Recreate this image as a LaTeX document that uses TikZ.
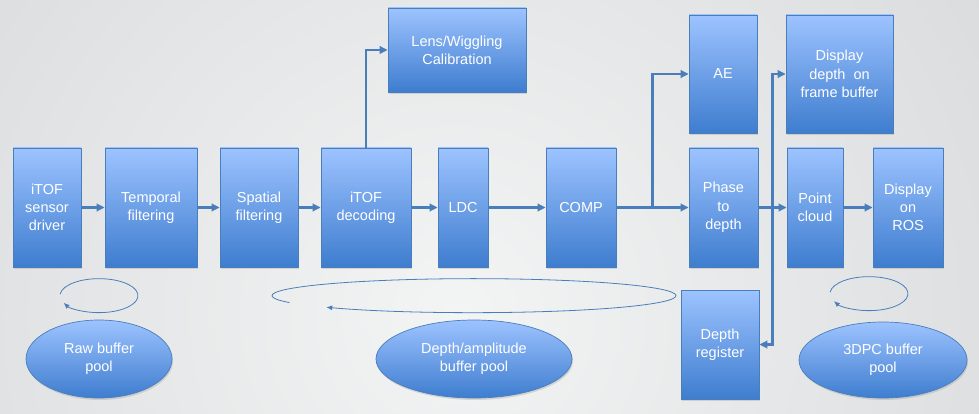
\documentclass[tikz,border=0pt]{standalone}
\usepackage{fontspec}
\setmainfont{Liberation Sans}
\usetikzlibrary{calc,arrows.meta,shadows,shapes.geometric}
\definecolor{arline}{HTML}{4A7EBB}
\definecolor{boxtop}{HTML}{9DC3FF}
\definecolor{boxbot}{HTML}{3E7DCF}
\definecolor{bgin}{HTML}{F3F4F4}
\definecolor{bgout}{HTML}{C2C4C7}
\pgfdeclareradialshading{bgshade}{\pgfpoint{0bp}{0bp}}{color(0bp)=(bgin); color(50bp)=(bgout)}
\tikzset{
  ar/.style={-{Triangle[length=8pt,width=7.5pt]},line width=2.6pt,arline},
  cyc/.style={-{Latex[length=6pt,width=5pt]},line width=0.8pt,arline},
  blk/.style={draw=arline,line width=0.7pt,top color=boxtop,bottom color=boxbot,text=white,align=center,inner sep=1pt,
    font=\fontsize{14.5}{18.3}\selectfont,drop shadow={shadow xshift=1pt,shadow yshift=-2pt,opacity=0.25}},
  pool/.style={blk,ellipse},
  sz/.style 2 args={minimum width=#1pt,minimum height=#2pt}
}
\begin{document}
\begin{tikzpicture}[x=1pt,y=-1pt]
\useasboundingbox (0,0) rectangle (979,414);
\begin{scope}
\clip (0,0) rectangle (979,414);
\shade[shading=bgshade] (455,315) circle (620);
\end{scope}
% processing blocks
\node[blk,sz={68}{119}] (drv) at (47,207.5) {iTOF\\sensor\\driver};
\node[blk,sz={92}{119}] (tmp) at (151,207.5) {Temporal\\filtering};
\node[blk,sz={78}{119}] (spa) at (259,207.5) {Spatial\\filtering};
\node[blk,sz={90}{119}] (dec) at (366,207.5) {iTOF\\decoding};
\node[blk,sz={50}{119}] (ldc) at (463,207.5) {LDC};
\node[blk,sz={70}{119}] (cmp) at (581,207.5) {COMP};
\node[blk,sz={138}{84}] (cal) at (457,50) {Lens/Wiggling\\Calibration};
\node[blk,sz={68}{118}] (ae) at (723,74) {AE};
\node[blk,sz={107}{118}] (dfb) at (839.5,74) {Display\\depth~ on\\frame buffer};
\node[blk,sz={69}{119}] (p2d) at (723.5,207.5) {Phase\\to\\depth};
\node[blk,sz={56}{119}] (pcl) at (815,207.5) {Point\\cloud};
\node[blk,sz={70}{119}] (ros) at (908,207.5) {Display\\on\\ROS};
\node[blk,sz={78}{109}] (reg) at (720,344.5) {Depth\\register};
% buffer pools
\node[pool,sz={146}{78}] (rawp) at (99,359) {Raw buffer\\pool};
\node[pool,sz={196}{78}] (dapp) at (474,359) {Depth/amplitude\\buffer pool};
\node[pool,sz={168}{76}] (pcp) at (883,360) {3DPC buffer\\pool};
% data flow
\draw[ar] (drv) -- (tmp);
\draw[ar] (tmp) -- (spa);
\draw[ar] (spa) -- (dec);
\draw[ar] (dec) -- (ldc);
\draw[ar] (ldc) -- (cmp);
\draw[ar] (dec.north) |- (cal.west);
\coordinate (j1) at ($(cmp.east)!0.5!(p2d.west)$);
\coordinate (j2) at ($(p2d.east)!0.5!(pcl.west)$);
\draw[ar] (cmp) -- (p2d);
\draw[ar] (j1) |- (ae.west);
\draw[ar] (p2d) -- (pcl);
\draw[ar] (j2) |- (dfb.west);
\draw[ar] (j2) |- (reg.east);
\draw[ar] (pcl) -- (ros);
% buffer recycling
\draw[cyc] ($(rawp.north)+(0,-24)$) ++(185:39 and 17) arc[start angle=185,end angle=515,x radius=39,y radius=17];
\draw[cyc] ($(dapp.north)+(0,-24)$) ++(156:202 and 17) arc[start angle=156,end angle=497,x radius=202,y radius=17];
\draw[cyc] ($(pcp.north)+(-14,-28)$) ++(185:39 and 17) arc[start angle=185,end angle=514,x radius=39,y radius=17];
\end{tikzpicture}
\end{document}
